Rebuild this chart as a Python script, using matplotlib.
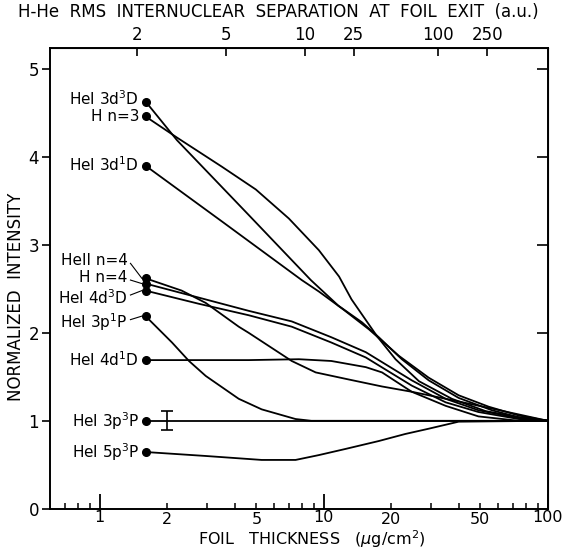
import matplotlib
matplotlib.use("Agg")
import matplotlib.pyplot as plt
from matplotlib.ticker import FixedLocator, NullFormatter

plt.rcParams['font.family'] = 'DejaVu Sans'

# curves (foil thickness, normalized intensity)
x_3d3D = [1.60, 2.21, 4.62, 8.75, 11.6, 14.8, 17.6, 22.3, 29.4, 40.0, 56.3, 74.2, 100]
y_3d3D = [4.63, 4.19, 3.34, 2.60, 2.31, 2.12, 1.95, 1.70, 1.46, 1.26, 1.12, 1.04, 1.0]

x_hn3 = [1.60, 2.21, 3.5, 4.97, 6.98, 9.5, 11.7, 13.3, 17.3, 20.9, 26.6, 37.3, 52.8, 74.2, 100]
y_hn3 = [4.46, 4.22, 3.89, 3.63, 3.30, 2.94, 2.64, 2.38, 1.96, 1.70, 1.45, 1.25, 1.11, 1.04, 1.0]

x_3d1D = [1.60, 3.58, 7.97, 9.5, 12.3, 15.9, 21.6, 29.4, 40.0, 54.5, 74.2, 100]
y_3d1D = [3.90, 3.25, 2.60, 2.47, 2.26, 2.04, 1.74, 1.49, 1.29, 1.16, 1.06, 1.0]

x_he2n4 = [1.60, 2.32, 2.97, 4.17, 4.62, 7.19, 9.2, 12.9, 18.2, 24.7, 40.0, 58.4, 100]
y_he2n4 = [2.62, 2.48, 2.34, 2.07, 2.00, 1.68, 1.55, 1.47, 1.39, 1.33, 1.22, 1.13, 1.0]

x_hn4 = [1.60, 2.77, 4.62, 7.19, 10.8, 15.4, 19.5, 24.7, 35.0, 49.0, 74.2, 100]
y_hn4 = [2.56, 2.40, 2.25, 2.13, 1.95, 1.78, 1.62, 1.46, 1.25, 1.12, 1.03, 1.0]
y_4d3D = [2.48, 2.33, 2.20, 2.07, 1.89, 1.72, 1.56, 1.40, 1.21, 1.10, 1.02, 1.0]

x_3p1P = [1.60, 2.10, 2.50, 2.97, 4.17, 5.28, 7.48, 8.8, 100]
y_3p1P = [2.19, 1.89, 1.68, 1.51, 1.25, 1.13, 1.02, 1.0, 1.0]

x_4d1D = [1.60, 4.62, 7.74, 10.8, 15.4, 18.2, 24.7, 35.0, 49.0, 74.2, 100]
y_4d1D = [1.69, 1.69, 1.70, 1.68, 1.61, 1.55, 1.33, 1.17, 1.05, 1.0, 1.0]

x_3p3P = [1.60, 100]
y_3p3P = [1.0, 1.0]

x_5p3P = [1.60, 2.97, 5.28, 7.48, 9.5, 12.5, 17.6, 23.1, 29.4, 40.0, 100]
y_5p3P = [0.645, 0.60, 0.555, 0.555, 0.61, 0.68, 0.77, 0.85, 0.91, 0.99, 1.0]

# labels: (text, y of label, y of dot, uses leader line)
labels = [
    (r'HeI 3d$^3$D', 4.66, 4.63, False),
    (r'H n=3', 4.46, 4.46, False),
    (r'HeI 3d$^1$D', 3.91, 3.90, False),
    (r'HeII n=4', 2.82, 2.62, True),
    (r'H n=4', 2.63, 2.56, True),
    (r'HeI 4d$^3$D', 2.40, 2.48, True),
    (r'HeI 3p$^1$P', 2.12, 2.19, True),
    (r'HeI 4d$^1$D', 1.69, 1.69, False),
    (r'HeI 3p$^3$P', 1.0, 1.0, False),
    (r'HeI 5p$^3$P', 0.645, 0.645, False),
]

err_x = 2.0
err_y = 1.0
err_size = 0.11

top_sep = ['2', '5', '10', '25', '100', '250']
top_thick = [1.46, 3.67, 8.2, 13.6, 32.4, 53.6]

fig = plt.figure(figsize=(5.7, 5.5), dpi=100)
ax = fig.add_axes([0.088, 0.075, 0.873, 0.838])

lw = 1.3
for xs, ys in [(x_3d3D, y_3d3D), (x_hn3, y_hn3), (x_3d1D, y_3d1D),
               (x_he2n4, y_he2n4), (x_hn4, y_hn4), (x_hn4, y_4d3D),
               (x_3p1P, y_3p1P), (x_4d1D, y_4d1D), (x_3p3P, y_3p3P),
               (x_5p3P, y_5p3P)]:
    ax.plot(xs, ys, color='black', lw=lw)
    ax.plot(xs[0], ys[0], 'o', color='black', ms=5.5)

ax.errorbar([err_x], [err_y], yerr=[err_size], fmt='none', ecolor='black',
            elinewidth=1.2, capsize=4, capthick=1.2)

for txt, ly, dy, leader in labels:
    if leader:
        ax.text(1.33, ly, txt, ha='right', va='center', fontsize=11)
        ax.plot([1.37, 1.54], [ly - 0.03 * (1 if ly > dy else -1), dy], color='black', lw=0.8)
    else:
        ax.text(1.50, ly, txt, ha='right', va='center', fontsize=11)

ax.set_xscale('log')
ax.set_xlim(0.6, 100)
ax.set_ylim(0, 5.24)

ax.xaxis.set_major_locator(FixedLocator([1, 10, 100]))
ax.xaxis.set_minor_locator(FixedLocator([0.7, 0.8, 0.9, 2, 3, 4, 5, 6, 7, 8, 9,
                                         20, 30, 40, 50, 60, 70, 80, 90]))
ax.set_xticklabels(['1', '10', '100'])
ax.xaxis.set_minor_formatter(NullFormatter())
for v in [2, 5, 20, 50]:
    ax.text(v, -0.04, str(v), ha='center', va='top', fontsize=11.5)
ax.tick_params(axis='x', which='major', direction='in', length=11, width=1.3,
               labelsize=11.5, pad=1)
ax.tick_params(axis='x', which='minor', direction='in', length=4, width=1.1)

ax.set_yticks([0, 1, 2, 3, 4, 5])
ax.tick_params(axis='y', direction='out', length=6, width=1.2, labelsize=12, pad=2)

for s in ax.spines.values():
    s.set_linewidth(1.4)

right = ax.secondary_yaxis('right')
right.set_yticks([1, 2, 3, 4, 5])
right.tick_params(direction='in', length=8, width=1.2, labelright=False)

top = ax.secondary_xaxis('top')
top.xaxis.set_major_locator(FixedLocator(top_thick))
top.set_xticklabels(top_sep)
top.xaxis.set_minor_locator(FixedLocator([]))
top.tick_params(direction='in', length=6, width=1.2, labelsize=12, pad=3)

fig.text(0.488, 0.978, 'H-He  RMS  INTERNUCLEAR  SEPARATION  AT  FOIL  EXIT  (a.u.)',
         ha='center', va='center', fontsize=12)
fig.text(0.547, 0.019, r'FOIL   THICKNESS   ($\mu$g/cm$^2$)',
         ha='center', va='center', fontsize=11.5)
fig.text(0.028, 0.46, 'NORMALIZED  INTENSITY', rotation=90,
         ha='center', va='center', fontsize=12)

fig.savefig('out.png', dpi=100)
